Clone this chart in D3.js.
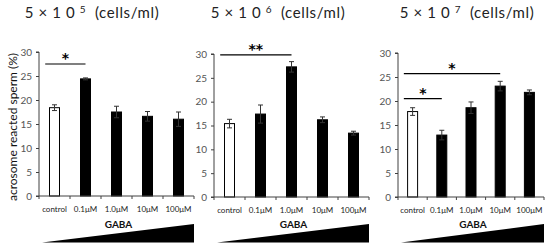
<!DOCTYPE html>
<html><head><meta charset="utf-8">
<script src="https://cdn.jsdelivr.net/npm/d3@7"></script>
<style>body{margin:0;background:#fff}svg{display:block}</style>
</head><body>
<svg id="c" width="550" height="249"></svg>
<script>
const categories = ["control", "0.1μM", "1.0μM", "10μM", "100μM"];
const yTicks = [0, 5, 10, 15, 20, 25, 30];
const titleBase = "5 × 1 0";
const titleExp = ["5", "6", "7"];
const titleUnit = " (cells/ml)";
const means1 = [18.4, 24.4, 17.5, 16.6, 16.0];
const errs1  = [0.6, 0.2, 1.2, 1.0, 1.5];
const means2 = [15.4, 17.4, 27.3, 16.2, 13.4];
const errs2  = [0.9, 1.9, 1.1, 0.6, 0.4];
const means3 = [17.8, 12.9, 18.6, 23.1, 21.8];
const errs3  = [0.8, 1.0, 1.2, 1.0, 0.5];
const sig1 = [{from: "control", to: "0.1μM", y: 27.5, label: "*"}];
const sig2 = [{from: "control", to: "1.0μM", y: 29.8, label: "**"}];
const sig3 = [{from: "control", to: "10μM", y: 25.7, label: "*"},
              {from: "control", to: "0.1μM", y: 20.5, label: "*"}];
const yLabel = "acrosome reacted sperm (%)";
const xLabel = "GABA";

const panels = [
  {means: means1, errs: errs1, sig: sig1, exp: titleExp[0], x0: 39, x1: 194, yb: 196, yt: 52, tx: 92, showY: true},
  {means: means2, errs: errs2, sig: sig2, exp: titleExp[1], x0: 214, x1: 369, yb: 197, yt: 54, tx: 278, showY: false},
  {means: means3, errs: errs3, sig: sig3, exp: titleExp[2], x0: 398, x1: 544, yb: 197, yt: 53, tx: 467, showY: false}
];

const svg = d3.select("#c");
const font = "Lato, 'Open Sans', sans-serif";
const axisCol = "#404040";

panels.forEach(p => {
  const g = svg.append("g");
  const x = d3.scaleBand().domain(categories).range([p.x0, p.x1]);
  const y = d3.scaleLinear().domain([0, 30]).range([p.yb, p.yt]);
  const bw = x.bandwidth();
  const barW = 10;

  // title
  const t = g.append("text").attr("x", p.tx).attr("y", 18)
    .attr("text-anchor", "middle").attr("font-family", font).attr("font-size", 15)
    .attr("letter-spacing", 0.6)
    .attr("fill", "#222").attr("xml:space", "preserve");
  t.append("tspan").text(titleBase + " ");
  t.append("tspan").attr("font-size", 10).attr("dy", -5).text(p.exp);
  t.append("tspan").attr("dy", 5).text(" " + titleUnit);

  // y axis
  const ya = d3.axisLeft(y).tickValues(yTicks).tickSize(3).tickPadding(4);
  const yg = g.append("g").attr("transform", `translate(${p.x0},0)`).call(ya);
  yg.select(".domain").attr("stroke", axisCol).attr("d", `M-3,${p.yb}H0V${p.yt}H-3`);
  yg.selectAll(".tick line").attr("stroke", axisCol);
  yg.selectAll("text").attr("font-family", font).attr("font-size", 10).attr("fill", "#555");

  // bars
  const data = categories.map((c, i) => ({c, m: p.means[i], e: p.errs[i], i}));
  g.selectAll("rect.bar").data(data).enter().append("rect")
    .attr("x", d => x(d.c) + bw / 2 - barW / 2)
    .attr("y", d => y(d.m))
    .attr("width", barW)
    .attr("height", d => y(0) - y(d.m))
    .attr("fill", d => d.i === 0 ? "#fff" : "#000")
    .attr("stroke", "#000").attr("stroke-width", 1);

  // error bars
  const eg = g.selectAll("g.err").data(data).enter().append("g").attr("stroke", "#333").attr("stroke-width", 1);
  eg.append("line").attr("x1", d => x(d.c) + bw / 2).attr("x2", d => x(d.c) + bw / 2)
    .attr("y1", d => y(d.m - d.e)).attr("y2", d => y(d.m + d.e));
  eg.append("line").attr("x1", d => x(d.c) + bw / 2 - 2.5).attr("x2", d => x(d.c) + bw / 2 + 2.5)
    .attr("y1", d => y(d.m + d.e)).attr("y2", d => y(d.m + d.e));
  eg.append("line").attr("x1", d => x(d.c) + bw / 2 - 2.5).attr("x2", d => x(d.c) + bw / 2 + 2.5)
    .attr("y1", d => y(d.m - d.e)).attr("y2", d => y(d.m - d.e));

  // x axis line & ticks at band boundaries
  g.append("line").attr("x1", p.x0).attr("x2", p.x1).attr("y1", y(0)).attr("y2", y(0))
    .attr("stroke", axisCol);
  const bounds = categories.map(c => x(c)).concat([p.x1]);
  g.selectAll("line.xt").data(bounds).enter().append("line")
    .attr("x1", d => d).attr("x2", d => d).attr("y1", y(0)).attr("y2", y(0) + 3)
    .attr("stroke", axisCol);
  g.selectAll("text.xl").data(categories).enter().append("text")
    .attr("x", d => x(d) + bw / 2).attr("y", y(0) + 16)
    .attr("text-anchor", "middle").attr("font-family", font).attr("font-size", 8)
    .attr("fill", "#222").text(d => d);

  // GABA label and triangle
  g.append("text").attr("x", (p.x0 + p.x1) / 2 + 2).attr("y", 228)
    .attr("text-anchor", "middle").attr("font-family", font).attr("font-weight", "bold")
    .attr("font-size", 10).attr("fill", "#111").text(xLabel);
  g.append("path")
    .attr("d", `M${p.x0 + 3},242.5L${p.x1},242.5L${p.x1},224Z`).attr("fill", "#000");

  // significance
  p.sig.forEach(s => {
    const xa = x(s.from) + bw * 0.2, xb = x(s.to) + bw * 0.5;
    g.append("line").attr("x1", xa).attr("x2", xb).attr("y1", y(s.y)).attr("y2", y(s.y))
      .attr("stroke", "#000").attr("stroke-width", 1.2);
    g.append("text").attr("x", (xa + xb) / 2).attr("y", y(s.y) - 1)
      .attr("text-anchor", "middle").attr("font-family", "'DejaVu Sans', sans-serif").attr("font-weight", "bold")
      .attr("font-size", 14).attr("fill", "#000").text(s.label);
  });

  if (p.showY) {
    g.append("text").attr("transform", `translate(17,${(p.yb + p.yt) / 2 + 3}) rotate(-90)`)
      .attr("text-anchor", "middle").attr("font-family", font).attr("font-size", 12)
      .attr("fill", "#111").text(yLabel);
  }
});
</script>
</body></html>
